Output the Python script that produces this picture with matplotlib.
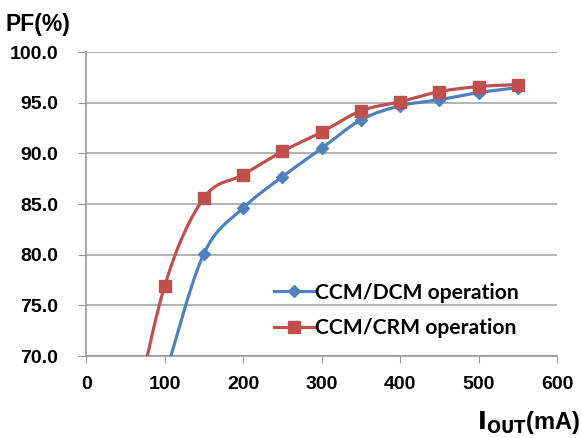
import numpy as np
import matplotlib
matplotlib.use("Agg")
import matplotlib.pyplot as plt

# data
iout_dcm = [100, 150, 200, 250, 300, 350, 400, 450, 500, 550]
pf_dcm = [68.0, 80.1, 84.6, 87.7, 90.5, 93.3, 94.7, 95.3, 96.0, 96.5]
iout_crm = [50, 100, 150, 200, 250, 300, 350, 400, 450, 500, 550]
pf_crm = [60.0, 76.9, 85.6, 87.9, 90.2, 92.1, 94.2, 95.1, 96.1, 96.6, 96.8]
yticks = [70, 75, 80, 85, 90, 95, 100]
xticks = [0, 100, 200, 300, 400, 500, 600]

BLUE = "#4F81BD"
RED = "#C0504D"


def smooth(x, y, n=30):
    # catmull-rom style smoothing, similar to excel's smoothed lines
    x = np.asarray(x, float)
    y = np.asarray(y, float)
    px = np.concatenate([[2 * x[0] - x[1]], x, [2 * x[-1] - x[-2]]])
    py = np.concatenate([[2 * y[0] - y[1]], y, [2 * y[-1] - y[-2]]])
    xs, ys = [], []
    t = np.linspace(0, 1, n)
    for i in range(1, len(px) - 2):
        for p, out in ((px, xs), (py, ys)):
            p0, p1, p2, p3 = p[i - 1], p[i], p[i + 1], p[i + 2]
            c1 = p1 + (p2 - p0) / 6
            c2 = p2 - (p3 - p1) / 6
            out.extend((1 - t) ** 3 * p1 + 3 * (1 - t) ** 2 * t * c1
                       + 3 * (1 - t) * t ** 2 * c2 + t ** 3 * p2)
    return np.array(xs), np.array(ys)


fig = plt.figure(figsize=(5.82, 4.38), dpi=100)
ax = fig.add_axes([0.148, 0.187, 0.809, 0.694])

sx, sy = smooth(iout_dcm, pf_dcm)
ax.plot(sx, sy, color=BLUE, lw=2.3, zorder=3)
ax.plot(iout_dcm, pf_dcm, ls="none", marker="D", ms=6, color=BLUE, zorder=4)
sx, sy = smooth(iout_crm, pf_crm)
ax.plot(sx, sy, color=RED, lw=2.3, zorder=3)
ax.plot(iout_crm, pf_crm, ls="none", marker="s", ms=9, color=RED, zorder=5)

ax.set_xlim(0, 600)
ax.set_ylim(70, 100)
ax.set_xticks(xticks)
ax.set_yticks(yticks)
ax.set_yticklabels(["%.1f" % v for v in yticks])
for lbl in ax.get_xticklabels() + ax.get_yticklabels():
    lbl.set_fontweight("bold")
    lbl.set_fontfamily("Liberation Sans")
    lbl.set_fontsize(14)
ax.tick_params(axis="y", length=6, color="#999999", pad=14)
ax.tick_params(axis="x", length=5, color="#999999", pad=9)
ax.grid(axis="y", color="#A6A6A6", lw=1.2)
ax.set_axisbelow(True)
for s in ["top", "right"]:
    ax.spines[s].set_visible(False)
for s in ["left", "bottom"]:
    ax.spines[s].set_color("#999999")
    ax.spines[s].set_linewidth(1.2)

h1 = plt.Line2D([], [], color=BLUE, lw=2.3, marker="D", ms=6)
h2 = plt.Line2D([], [], color=RED, lw=2.3, marker="s", ms=9)
ax.legend([h1, h2], ["CCM/DCM operation", "CCM/CRM operation"],
          loc="lower left", bbox_to_anchor=(0.4, 0.058), frameon=False,
          handlelength=1.85, handletextpad=0.05, labelspacing=0.75,
          borderaxespad=0, borderpad=0,
          prop={"family": "Lato", "weight": "bold", "size": 15.2})

fig.text(0.01, 0.97, "PF(%)", fontsize=16.5, fontweight="bold",
         family="Liberation Sans", va="top")
fig.text(0.997, 0.004, r"$\mathbf{I_{OUT}}$(mA)", fontsize=17, fontweight="bold",
         family="Liberation Sans", ha="right", va="bottom")

fig.savefig("out.png", dpi=100)
